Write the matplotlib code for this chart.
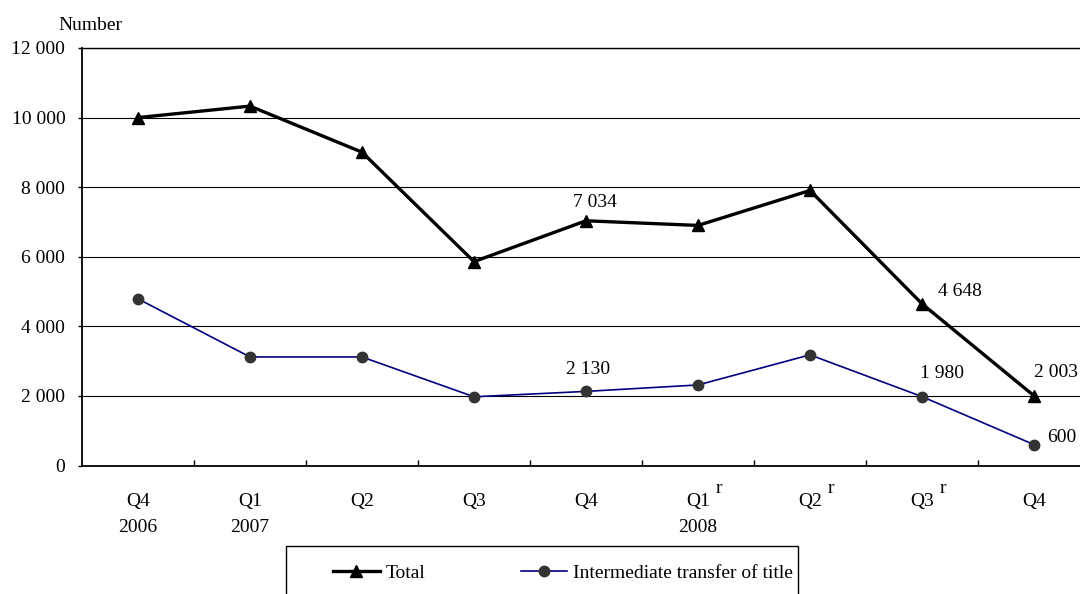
import matplotlib
matplotlib.use("Agg")
import matplotlib.pyplot as plt
from matplotlib.patches import Rectangle

plt.rcParams["font.family"] = ["Liberation Serif", "DejaVu Serif"]

# ── data ───────────────────────────────────────────────────────────────────────
quarters = ["Q4\n2006", "Q1\n2007", "Q2", "Q3", "Q4", "Q1\n2008", "Q2", "Q3", "Q4"]
revised = [5, 6, 7]   # quarters marked with a superscript "r"
total = [10000, 10330, 9005, 5860, 7034, 6900, 7905, 4648, 2003]
intermediate = [4790, 3120, 3120, 1975, 2130, 2315, 3180, 1980, 600]

yticks = [0, 2000, 4000, 6000, 8000, 10000, 12000]
ytick_labels = ["0", "2 000", "4 000", "6 000", "8 000", "10 000", "12 000"]

# labelled points: (index, text, offset px, ha)
total_labels = [(4, "7 034", (9, 18), "center"),
                (7, "4 648", (16, 12), "left"),
                (8, "2 003", (0, 23), "left")]
inter_labels = [(4, "2 130", (2, 22), "center"),
                (7, "1 980", (20, 23), "center"),
                (8, "600", (13, 7), "left")]

# ── plot ───────────────────────────────────────────────────────────────────────
W, H = 1080, 594
fig = plt.figure(figsize=(W / 100, H / 100), dpi=100)
ax = fig.add_axes([82 / W, 128.5 / H, 1008 / W, 417.5 / H])

x = list(range(len(quarters)))
l_total, = ax.plot(x, total, color="black", linewidth=2.4, marker="^",
                   markersize=8.5, label="Total", zorder=4)
l_inter, = ax.plot(x, intermediate, color="#000080", linewidth=1.2, marker="o",
                   markersize=7.5, markerfacecolor="#333333",
                   markeredgecolor="#333333", label="Intermediate transfer of title",
                   zorder=3)

for series, labels in [(total, total_labels), (intermediate, inter_labels)]:
    for i, txt, off, ha in labels:
        ax.annotate(txt, (x[i], series[i]), xytext=off, textcoords="offset pixels",
                    ha=ha, va="center", fontsize=14, annotation_clip=False)

ax.set_xlim(-0.5, len(quarters) - 0.5)
ax.set_ylim(0, 12000)
ax.set_yticks(yticks)
ax.set_yticklabels(ytick_labels, fontsize=14)
ax.yaxis.grid(True, color="black", linewidth=0.8)
ax.set_axisbelow(True)

# boundaries between quarters carry the ticks, labels sit at the centres
ax.set_xticks([i + 0.5 for i in x[:-1]])
ax.set_xticklabels([])
ax.set_xticks(x, minor=True)
ax.set_xticklabels(quarters, minor=True, fontsize=14)
for lbl in ax.get_xticklabels(minor=True):
    lbl.set_linespacing(1.7)
ax.tick_params(axis="x", which="major", direction="in", length=4.5, width=1)
ax.tick_params(axis="x", which="minor", length=0, pad=20)
ax.tick_params(axis="y", direction="out", length=3, width=1, pad=9)

# superscript "r" for revised quarters
for i in revised:
    ax.annotate("r", (x[i], 0), xycoords=("data", "axes fraction"),
                xytext=(21, -23), textcoords="offset pixels",
                ha="center", va="center", fontsize=14, annotation_clip=False)

for side in ["left", "bottom"]:
    ax.spines[side].set_linewidth(1.3)
ax.spines["top"].set_linewidth(1)

fig.text(58 / W, 1 - 25 / H, "Number", fontsize=14, ha="left", va="center")

# legend box running off the bottom edge
fig.patches.append(Rectangle((286 / W, -0.05), (798 - 286) / W, (594 - 546) / H + 0.05,
                             transform=fig.transFigure, fill=False,
                             edgecolor="black", linewidth=1))
fig.legend(handles=[l_total, l_inter], loc="center left",
           bbox_to_anchor=(333 / W, 1 - 573 / H), ncol=2, frameon=False,
           fontsize=14, handlelength=2.4, handletextpad=0.3, columnspacing=4.9,
           borderpad=0, borderaxespad=0)

fig.savefig("out.png", dpi=100)
